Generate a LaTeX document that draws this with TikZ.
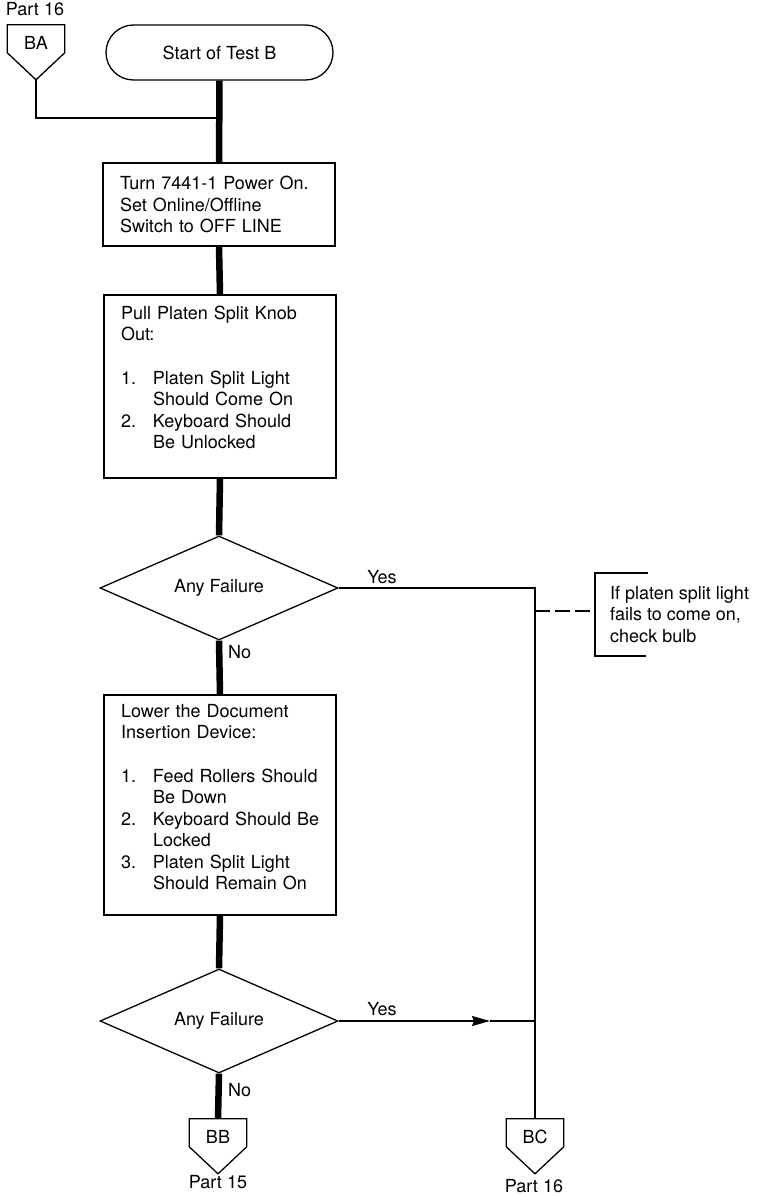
\documentclass[tikz,border=0pt]{standalone}
\usepackage{fontspec}
\setmainfont{TeX Gyre Heros}
\usetikzlibrary{shapes.geometric,shapes.misc,arrows.meta}

% numbered item with hanging indent
\newcommand\itemno[1]{\makebox[32pt][l]{#1}}
\newcommand\hangin{\hspace*{32pt}}
% extra depth below the last line of a text block
\newcommand\lowpad[1]{\rule[-#1]{0pt}{#1}}

% off-page connector outline drawn around a named node
\newcommand\offpageoutline[1]{%
  \draw[wire] (#1.north west) -- (#1.north east) -- ([yshift=-28pt]#1.north east)
    -- ([yshift=-55pt]#1.north) -- ([yshift=-28pt]#1.north west) -- cycle;
  \coordinate (#1-tip) at ([yshift=-55pt]#1.north);}

\begin{document}
\begin{tikzpicture}[x=1pt,y=-1pt,
  font=\fontsize{18}{21.5}\selectfont,
  wire/.style={line width=1.3pt},
  flow/.style={line width=6.5pt},
  annot/.style={line width=2pt},
  terminal/.style={draw, wire, rounded rectangle, minimum width=227pt, minimum height=55pt, inner sep=0pt},
  procbox/.style={draw, wire, rectangle, minimum width=232pt, text width=198pt, align=left, inner xsep=0pt, inner ysep=0pt},
  decision/.style={draw, wire, diamond, minimum width=238pt, minimum height=104pt, inner sep=0pt, aspect=2.29},
  conn/.style={rectangle, inner sep=0pt, minimum width=57pt, minimum height=36pt},
  note/.style={anchor=west, inner xsep=15pt, inner ysep=0pt, minimum height=83pt, align=left},
  lbl/.style={inner sep=0pt, anchor=base}
]
\useasboundingbox (0,0) rectangle (770,1196);

% ---- nodes of the main column
\node[terminal] (start) at (219.5,52.5) {Start of Test B};
\node[procbox, minimum height=83pt] (box1) at (219,204.5)
  {Turn 7441-1 Power On.\\ Set Online/Offline\\ Switch to OFF LINE};
\node[procbox, minimum height=183pt] (box2) at (220,386.5)
  {Pull Platen Split Knob\\ Out:\\[22pt]
   \itemno{1.}Platen Split Light\\ \hangin Should Come On\\
   \itemno{2.}Keyboard Should\\ \hangin Be Unlocked\lowpad{18pt}};
\node[decision] (dec1) at (219,588) {Any Failure};
\node[procbox, minimum height=220pt] (box3) at (220,805)
  {Lower the Document\\ Insertion Device:\\[22pt]
   \itemno{1.}\mbox{Feed Rollers Should}\\ \hangin Be Down\\
   \itemno{2.}\mbox{Keyboard Should Be}\\ \hangin Locked\\
   \itemno{3.}Platen Split Light\\ \hangin Should Remain On\lowpad{16pt}};
\node[decision] (dec2) at (219,1021) {Any Failure};

% ---- off-page connectors
\node[conn] (BA) at (36,43) {BA};
\offpageoutline{BA}
\node[conn] (BB) at (218,1137) {BB};
\offpageoutline{BB}
\node[conn] (BC) at (535,1137) {BC};
\offpageoutline{BC}

\node[lbl] (partA) at (35,16) {Part 16};
\node[lbl] (partB) at (218,1188) {Part 15};
\node[lbl] (partC) at (534,1192) {Part 16};

% ---- annotation
\node[note] (note) at (595,614.5)
  {If platen split light\\ fails to come on,\\ check bulb};
\draw[annot] ([xshift=53pt]note.north west) -- (note.north west)
  -- (note.south west) -- ([xshift=51pt]note.south west);

% ---- junction points
\coordinate (join) at (219,118);
\coordinate (r1) at (535,588);
\coordinate (r2) at (535,1021);
\coordinate (r3) at (535,611);
\coordinate (ah) at (490,1021);

% ---- main flow
\draw[flow] (start.south) -- (box1.north);
\draw[flow] (box1.south) -- (box2.north);
\draw[flow] (box2.south) -- (dec1.north);
\draw[flow] (dec1.south) -- (box3.north);
\draw[flow] (box3.south) -- (dec2.north);
\draw[flow] (dec2.south) -- (BB.north);

% ---- thin connectors
\draw[wire] (BA-tip) |- (join);
\draw[wire] (dec1.east) -- (r1) -- (BC.north);
\draw[wire, -{Stealth[length=18pt, width=10pt, inset=2pt]}] (dec2.east) -- (ah);
\draw[wire] (ah) -- (r2);
\draw[annot, dash pattern=on 15pt off 5pt] (r3) -- (r3 -| note.west);

% ---- branch labels
\node[lbl] (yes1) at (382,583) {Yes};
\node[lbl] (yes2) at (382,1015) {Yes};
\node[lbl, anchor=base west] (no1) at (228,658) {No};
\node[lbl, anchor=base west] (no2) at (228,1096) {No};
\end{tikzpicture}
\end{document}
